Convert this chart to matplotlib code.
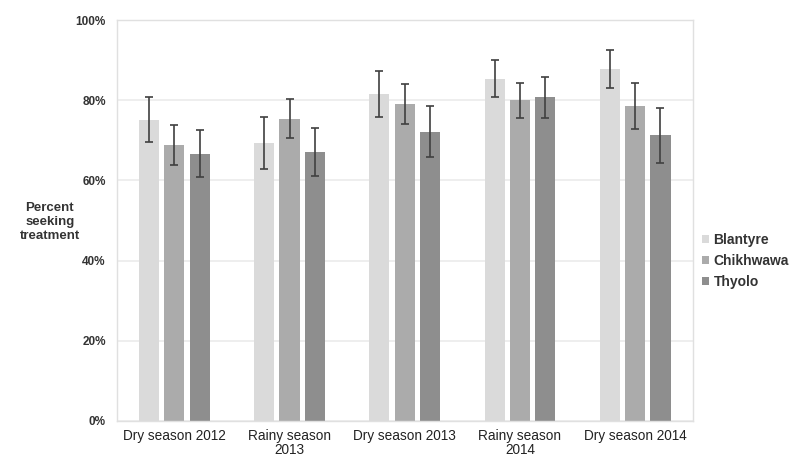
import matplotlib.pyplot as plt
import numpy as np

plt.rcParams['font.family'] = ['Liberation Sans', 'DejaVu Sans']

periodos = ['Dry season 2012', 'Rainy season\n2013', 'Dry season 2013',
            'Rainy season\n2014', 'Dry season 2014']
distritos = ['Blantyre', 'Chikhwawa', 'Thyolo']

blantyre = [75.1, 69.4, 81.6, 85.4, 87.8]
chikhwawa = [68.9, 75.4, 79.0, 80.0, 78.5]
thyolo = [66.7, 67.1, 72.2, 80.7, 71.3]

erro_blantyre = [5.6, 6.5, 5.8, 4.7, 4.8]
erro_chikhwawa = [5.0, 4.9, 5.0, 4.3, 5.7]
erro_thyolo = [5.8, 6.0, 6.3, 5.0, 6.9]

cores = ['#dadada', '#ababab', '#8e8e8e']

fig = plt.figure(figsize=(7.89, 4.58), dpi=100)
ax = fig.add_axes([0.148, 0.081, 0.730, 0.875])

x = np.arange(len(periodos))
largura = 0.175
passo = 0.22
series = [blantyre, chikhwawa, thyolo]
erros = [erro_blantyre, erro_chikhwawa, erro_thyolo]
for i in range(3):
    ax.bar(x + (i - 1) * passo, series[i], largura, color=cores[i],
           label=distritos[i], zorder=2,
           yerr=erros[i], error_kw=dict(ecolor='#404040', elinewidth=1.2,
                                        capsize=3, capthick=1.2))

ax.set_xlim(-0.5, len(periodos) - 0.5)
ax.set_ylim(0, 100)
ax.set_yticks([0, 20, 40, 60, 80, 100])
ax.set_yticklabels(['0%', '20%', '40%', '60%', '80%', '100%'])
ax.set_xticks(x)
ax.set_xticklabels(periodos)
ax.grid(axis='y', color='#ebebeb', linewidth=1.2, zorder=0)
ax.set_axisbelow(True)
for lado in ax.spines.values():
    lado.set_color('#e0e0e0')
    lado.set_linewidth(1)
ax.tick_params(axis='y', length=0, labelsize=8.5, colors='#333333', pad=8)
ax.tick_params(axis='x', length=0, pad=6)
for t in ax.get_yticklabels():
    t.set_fontweight('bold')
for t in ax.get_xticklabels():
    t.set_fontsize(9.8)
    t.set_color('#222222')
    t.set_linespacing(1.0)

fig.text(0.063, 0.515, 'Percent\nseeking\ntreatment', ha='center', va='center',
         fontsize=9.5, fontweight='bold', color='#333333', linespacing=1.2)

ax.legend(loc='center left', bbox_to_anchor=(0.995, 0.40), frameon=False,
          handlelength=0.5, handleheight=0.5, handletextpad=0.3,
          labelspacing=0.5, prop={'weight': 'bold', 'size': 10},
          labelcolor='#333333')

fig.savefig('out.png', dpi=100)
